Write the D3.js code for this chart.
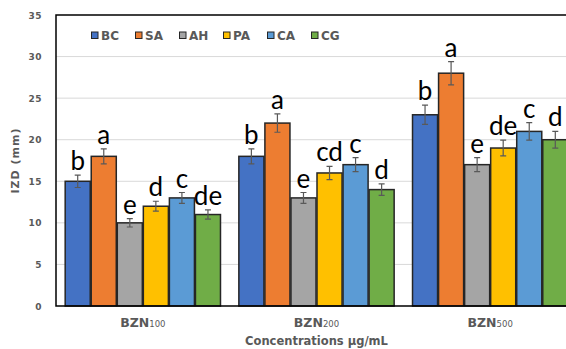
<!DOCTYPE html>
<html>
<head>
<meta charset="utf-8">
<script src="https://cdn.jsdelivr.net/npm/d3@7"></script>
<style>
  body { margin: 0; background: #fff; }
  svg { display: block; }
  .axis-label { font-family: "DejaVu Sans", sans-serif; font-weight: 700; fill: #595959; }
</style>
</head>
<body>
<svg id="chart" width="566" height="349"></svg>
<script>
const groups = ["BZN100", "BZN200", "BZN500"];
const groupBase = ["BZN", "BZN", "BZN"];
const groupSub = ["100", "200", "500"];
const keys = ["BC", "SA", "AH", "PA", "CA", "CG"];
const colors = ["#4472C4", "#ED7D31", "#A5A5A5", "#FFC000", "#5B9BD5", "#70AD47"];

// mean IZD per group (rows) and series (columns)
const values = [
  [15, 18, 10, 12, 13, 11],
  [18, 22, 13, 16, 17, 14],
  [23, 28, 17, 19, 21, 20],
];
const errors = [
  [0.75, 0.9, 0.5, 0.6, 0.65, 0.55],
  [0.9, 1.1, 0.65, 0.8, 0.85, 0.7],
  [1.15, 1.4, 0.85, 0.95, 1.05, 1.0],
];
const letters = [
  ["b", "a", "e", "d", "c", "de"],
  ["b", "a", "e", "cd", "c", "d"],
  ["b", "a", "e", "de", "c", "d"],
];
const yTicks = [0, 5, 10, 15, 20, 25, 30, 35];

const marginLeft = 56, marginTop = 15, plotBottom = 306, plotRight = 577;

const svg = d3.select("#chart");

const x0 = d3.scaleBand().domain(groups).range([marginLeft, plotRight])
  .paddingInner(0.1).paddingOuter(0.05);
const x1 = d3.scaleBand().domain(keys).range([0, x0.bandwidth()]);
const y = d3.scaleLinear().domain([0, 35]).range([plotBottom, marginTop]);
const color = d3.scaleOrdinal().domain(keys).range(colors);

// gridlines
svg.append("g")
  .selectAll("line")
  .data(yTicks.slice(1, -1))
  .join("line")
  .attr("x1", marginLeft).attr("x2", 566)
  .attr("y1", d => y(d)).attr("y2", d => y(d))
  .attr("stroke", "#d9d9d9").attr("stroke-width", 1);

// y tick labels
svg.append("g")
  .selectAll("text")
  .data(yTicks)
  .join("text")
  .attr("class", "axis-label")
  .attr("x", 42).attr("y", d => y(d) + 3.5)
  .attr("text-anchor", "end")
  .attr("font-size", 9)
  .attr("letter-spacing", 0.5)
  .text(d => d);

const rows = groups.flatMap((g, gi) => keys.map((k, ki) => ({
  group: g, key: k, value: values[gi][ki], err: errors[gi][ki], letter: letters[gi][ki],
})));

const bar = svg.append("g")
  .selectAll("g")
  .data(rows)
  .join("g")
  .attr("transform", d => `translate(${x0(d.group) + x1(d.key)},0)`);

bar.append("rect")
  .attr("x", 0.5)
  .attr("width", x1.bandwidth() - 1)
  .attr("y", d => y(d.value))
  .attr("height", d => y(0) - y(d.value))
  .attr("fill", d => color(d.key))
  .attr("stroke", "#262626")
  .attr("stroke-width", 1.5);

const cx = x1.bandwidth() / 2;
bar.append("path")
  .attr("d", d => {
    const t = y(d.value + d.err), b = y(d.value - d.err);
    return `M${cx},${t}V${b}M${cx - 3},${t}H${cx + 3}M${cx - 3},${b}H${cx + 3}`;
  })
  .attr("stroke", "#595959").attr("stroke-width", 1.2).attr("fill", "none");

bar.append("text")
  .attr("x", cx)
  .attr("y", d => y(d.value + d.err) - 5)
  .attr("text-anchor", "middle")
  .attr("font-family", "Lato, sans-serif")
  .attr("font-size", 26)
  .attr("fill", "#000")
  .text(d => d.letter);

// axis frame
svg.append("path")
  .attr("d", `M566,${marginTop}H${marginLeft}V${plotBottom}H566`)
  .attr("fill", "none").attr("stroke", "#000").attr("stroke-width", 1.5);

// x labels
const xl = svg.append("g")
  .selectAll("text")
  .data(groups)
  .join("text")
  .attr("class", "axis-label")
  .attr("x", d => x0(d) + x0.bandwidth() / 2)
  .attr("y", 327)
  .attr("text-anchor", "middle")
  .attr("font-size", 12.5);
xl.append("tspan").text((d, i) => groupBase[i]);
xl.append("tspan").attr("font-size", 8.5).attr("font-weight", 400).text((d, i) => groupSub[i]);

svg.append("text")
  .attr("class", "axis-label")
  .attr("x", x0("BZN200") + x0.bandwidth() / 2)
  .attr("y", 345)
  .attr("text-anchor", "middle")
  .attr("font-size", 11.5)
  .text("Concentrations µg/mL");

svg.append("text")
  .attr("class", "axis-label")
  .attr("transform", `translate(19,${y(17.5)}) rotate(-90)`)
  .attr("text-anchor", "middle")
  .attr("font-size", 11)
  .attr("letter-spacing", 1)
  .text("IZD (mm)");

// legend
const legend = svg.append("g")
  .selectAll("g")
  .data(keys)
  .join("g")
  .attr("transform", (d, i) => `translate(${91 + i * 44},35)`);
legend.append("rect")
  .attr("x", 0.5).attr("y", -3).attr("width", 6.5).attr("height", 6.5)
  .attr("fill", d => color(d)).attr("stroke", "#262626").attr("stroke-width", 1);
legend.append("text")
  .attr("class", "axis-label")
  .attr("x", 10).attr("y", 4.5)
  .attr("font-size", 12)
  .text(d => d);
</script>
</body>
</html>
